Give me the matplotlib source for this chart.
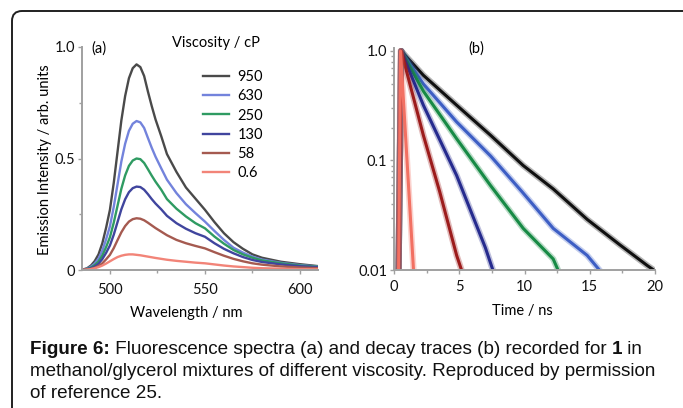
import matplotlib
matplotlib.use("Agg")
import matplotlib.pyplot as plt
from matplotlib.patches import FancyBboxPatch
from matplotlib.transforms import IdentityTransform
from matplotlib.ticker import FixedLocator, FixedFormatter, NullFormatter

# ---------------- data ----------------
wavelength = [485, 488, 490, 492, 494, 496, 498, 500, 502, 504, 506, 508, 510, 512, 514, 516, 518,
              520, 522, 524, 527, 530, 535, 540, 545, 550, 555, 560, 565, 570, 575, 580, 590, 600, 610]
spec_950 = [0.0, 0.008, 0.02, 0.04, 0.07, 0.12, 0.19, 0.27, 0.39, 0.53, 0.67, 0.78, 0.86, 0.905, 0.922, 0.91, 0.87,
            0.80, 0.735, 0.675, 0.60, 0.52, 0.44, 0.37, 0.32, 0.27, 0.215, 0.165, 0.125, 0.095, 0.07, 0.055, 0.037, 0.026, 0.017]
spec_630 = [0.0, 0.006, 0.015, 0.029, 0.051, 0.087, 0.138, 0.196, 0.283, 0.384, 0.486, 0.566, 0.624, 0.656, 0.668, 0.662, 0.637,
            0.592, 0.548, 0.508, 0.456, 0.405, 0.345, 0.295, 0.255, 0.217, 0.175, 0.135, 0.10, 0.078, 0.06, 0.047, 0.032, 0.022, 0.015]
spec_250 = [0.0, 0.005, 0.011, 0.022, 0.038, 0.065, 0.103, 0.147, 0.212, 0.288, 0.364, 0.424, 0.467, 0.491, 0.50, 0.497, 0.48,
            0.452, 0.423, 0.396, 0.36, 0.318, 0.275, 0.24, 0.21, 0.187, 0.15, 0.118, 0.09, 0.07, 0.055, 0.043, 0.03, 0.02, 0.014]
spec_130 = [0.0, 0.004, 0.008, 0.016, 0.028, 0.049, 0.077, 0.11, 0.158, 0.215, 0.272, 0.317, 0.349, 0.367, 0.374, 0.372, 0.36,
            0.34, 0.318, 0.298, 0.272, 0.243, 0.21, 0.185, 0.165, 0.149, 0.12, 0.095, 0.075, 0.058, 0.045, 0.036, 0.025, 0.017, 0.012]
spec_58 = [0.0, 0.003, 0.005, 0.01, 0.018, 0.03, 0.048, 0.068, 0.098, 0.134, 0.169, 0.197, 0.217, 0.228, 0.232, 0.23, 0.223,
           0.212, 0.2, 0.188, 0.172, 0.156, 0.135, 0.12, 0.108, 0.097, 0.08, 0.064, 0.05, 0.039, 0.03, 0.024, 0.016, 0.011, 0.008]
spec_06 = [0.0, 0.002, 0.004, 0.008, 0.013, 0.02, 0.029, 0.039, 0.049, 0.058, 0.064, 0.068, 0.07, 0.07, 0.068, 0.066, 0.063,
           0.06, 0.057, 0.054, 0.05, 0.046, 0.041, 0.037, 0.033, 0.03, 0.025, 0.02, 0.016, 0.013, 0.01, 0.008, 0.006, 0.004, 0.003]
viscosity_labels = ["950", "630", "250", "130", "58", "0.6"]

t_950 = [0.35, 0.55, 2.25, 4.8, 7.4, 9.9, 12.2, 14.8, 17.3, 19.4, 20.0]
d_950 = [0.01, 1.0, 0.60, 0.32, 0.17, 0.09, 0.055, 0.029, 0.017, 0.011, 0.0098]
t_630 = [0.35, 0.55, 2.25, 4.8, 7.4, 9.8, 12.2, 14.8, 15.8]
d_630 = [0.01, 1.0, 0.50, 0.225, 0.11, 0.052, 0.024, 0.0136, 0.0098]
t_250 = [0.35, 0.55, 2.25, 4.8, 7.4, 9.9, 12.2, 12.6]
d_250 = [0.01, 1.0, 0.43, 0.158, 0.059, 0.024, 0.0126, 0.0098]
t_130 = [0.35, 0.55, 2.25, 4.8, 7.0, 7.6]
d_130 = [0.01, 1.0, 0.32, 0.073, 0.016, 0.0098]
t_58 = [0.35, 0.55, 2.25, 3.5, 4.8, 5.2]
d_58 = [0.01, 1.0, 0.17, 0.052, 0.0136, 0.0098]
t_06 = [0.35, 0.5, 1.5]
d_06 = [0.01, 1.0, 0.0098]

a_xticks = [500, 550, 600]
a_xminor = [525, 575]
a_yticks = [0, 0.5, 1.0]
a_yticklabels = ["0", "0.5", "1.0"]
a_yminor = [0.25, 0.75]
b_xticks = [0, 5, 10, 15, 20]
b_xminor = [2.5, 7.5, 12.5, 17.5]
b_yticks = [0.01, 0.1, 1.0]
b_yticklabels = ["0.01", "0.1", "1.0"]

spec_colors = ["#4a4a4a", "#7383dc", "#2f9b62", "#40459e", "#a55a50", "#f28478"]
decay_colors = ["#101010", "#3d5ec4", "#178a45", "#262b8e", "#9c1c1c", "#f27062"]

# ---------------- figure ----------------
W, H = 683, 408
fig = plt.figure(figsize=(W / 100, H / 100), dpi=100)
FONT = "Lato"
FS = 10.5

def fx(x):
    return x / W

def fy(y):
    return 1 - y / H

border = FancyBboxPatch((12, -40), 900, (H - 11) + 40,
                        boxstyle="round,pad=0,rounding_size=10",
                        transform=IdentityTransform(), fill=False,
                        lw=1.4, ec="#202020", zorder=0)
fig.patches.append(border)

spine_col = "#a0a0a0"

def style_axes(ax):
    for s in ["top", "right"]:
        ax.spines[s].set_visible(False)
    for s in ["left", "bottom"]:
        ax.spines[s].set_color(spine_col)
        ax.spines[s].set_linewidth(1.4)
    ax.tick_params(which="both", direction="out", color=spine_col, width=1.0,
                   labelsize=FS, labelcolor="#111111", pad=2)
    ax.tick_params(which="major", length=3)
    ax.tick_params(which="minor", length=2.5)
    for lab in ax.get_xticklabels() + ax.get_yticklabels():
        lab.set_family(FONT)

# panel (a)
axa = fig.add_axes([fx(82), fy(270), fx(318) - fx(82), fy(47) - fy(270)])
spectra = [spec_950, spec_630, spec_250, spec_130, spec_58, spec_06]
handles = []
for s, c, lab in zip(spectra, spec_colors, viscosity_labels):
    h, = axa.plot(wavelength, s, color=c, lw=1.7, label=lab, solid_joinstyle="round")
    handles.append(h)
axa.set_xlim(485.3, 609.5)
axa.set_ylim(0, 1.0)
axa.xaxis.set_major_locator(FixedLocator(a_xticks))
axa.xaxis.set_minor_locator(FixedLocator(a_xminor))
axa.yaxis.set_major_locator(FixedLocator(a_yticks))
axa.yaxis.set_major_formatter(FixedFormatter(a_yticklabels))
axa.yaxis.set_minor_locator(FixedLocator(a_yminor))
style_axes(axa)
axa.tick_params(axis="x", pad=6)
axa.legend(handles=handles, loc="upper left",
           bbox_to_anchor=(fx(203), fy(70)), bbox_transform=fig.transFigure,
           frameon=False, borderpad=0, borderaxespad=0, handlelength=1.75,
           handletextpad=0.6, labelspacing=0.36,
           prop={"family": FONT, "size": FS})

fig.text(fx(99), fy(49), "(a)", ha="center", va="center", family=FONT, fontsize=FS)
fig.text(fx(216), fy(43), "Viscosity / cP", ha="center", va="center", family=FONT, fontsize=FS)
fig.text(fx(45), fy(160), "Emission Intensity / arb. units", ha="center", va="center",
         rotation=90, family=FONT, fontsize=FS)
fig.text(fx(186), fy(313), "Wavelength / nm", ha="center", va="center", family=FONT, fontsize=FS)

# panel (b)
axb = fig.add_axes([fx(394), fy(270), fx(655) - fx(394), fy(48) - fy(270)])
traces = [(t_950, d_950), (t_630, d_630), (t_250, d_250), (t_130, d_130), (t_58, d_58), (t_06, d_06)]
for (t, d), c in zip(traces, decay_colors):
    axb.plot(t, d, color=c, lw=4.5, alpha=0.3, solid_capstyle="butt")
    axb.plot(t, d, color=c, lw=2.2, solid_capstyle="butt")
axb.set_yscale("log")
axb.set_xlim(0, 20)
axb.set_ylim(0.01, 1.065)
axb.xaxis.set_major_locator(FixedLocator(b_xticks))
axb.xaxis.set_minor_locator(FixedLocator(b_xminor))
axb.yaxis.set_major_locator(FixedLocator(b_yticks))
axb.yaxis.set_major_formatter(FixedFormatter(b_yticklabels))
axb.yaxis.set_minor_formatter(NullFormatter())
style_axes(axb)
axb.tick_params(axis="x", pad=4)
fig.text(fx(476), fy(49), "(b)", ha="center", va="center", family=FONT, fontsize=FS)
fig.text(fx(522), fy(311), "Time / ns", ha="center", va="center", family=FONT, fontsize=FS)

# ---------------- caption ----------------
CAP_FONT = "Liberation Sans"
CAP_FS = 13.6
caption_lines = [
    [("Figure 6:", True), (" Fluorescence spectra (a) and decay traces (b) recorded for ", False),
     ("1", True), (" in", False)],
    [("methanol/glycerol mixtures of different viscosity. Reproduced by permission", False)],
    [("of reference 25.", False)],
]
line_y = [350, 372, 393]
fig.canvas.draw()
renderer = fig.canvas.get_renderer()
for parts, yy in zip(caption_lines, line_y):
    xpix = 30
    for txt, bold in parts:
        t = fig.text(fx(xpix), fy(yy), txt, ha="left", va="center", family=CAP_FONT,
                     fontsize=CAP_FS, weight="bold" if bold else "normal", color="#111111")
        bb = t.get_window_extent(renderer=renderer)
        xpix += bb.width

fig.savefig("out.png", dpi=100)
